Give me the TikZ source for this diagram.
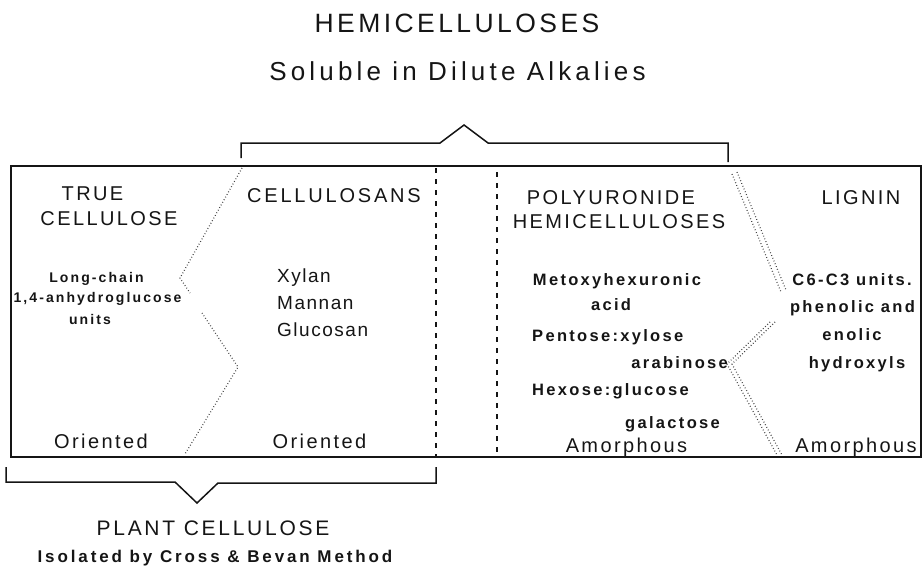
\documentclass[tikz,border=0pt]{standalone}
\usepackage{fontspec}
\setmainfont{Liberation Sans}
\newcommand\fs[2]{\fontsize{#1}{#1}\selectfont\addfontfeatures{LetterSpace=#2}}
\definecolor{ink}{HTML}{151515}
\tikzset{
  lbl/.style={inner sep=0pt, anchor=base, text=ink},
  lblw/.style={lbl, anchor=base west},
  lble/.style={lbl, anchor=base east},
  frame/.style={draw=ink, line width=1.4pt},
  brk/.style={draw=ink, line width=1.5pt, line join=miter},
  dsh/.style={draw=ink, line width=1.8pt, dash pattern=on 5pt off 6pt},
  dot/.style={draw=ink!80, line width=1.2pt, dash pattern=on 0.8pt off 2.2pt},
  hdr/.style={lbl, font={\fs{20}{12}}},
  smb/.style={lbl, font={\fs{14}{15}\bfseries}},
  mdb/.style={lbl, font={\fs{16.5}{14}\bfseries}},
  xyl/.style={lblw, font={\fs{19}{8}}},
}
\begin{document}
\begin{tikzpicture}[x=1pt,y=-1pt]
\useasboundingbox (0,0) rectangle (923,570);
% titles
\node[lbl, font={\fs{26.5}{13}}] (t1) at (457,32) {HEMICELLULOSES};
\node[lbl, font={\fs{26}{16}}] (t2) at (457.5,80) {Soluble in Dilute Alkalies};
% top bracket
\draw[brk] (241,158) -- (241,143) -- (440,143) -- (464,125) -- (488,143) -- (728,143) -- (728,162);
% main frame
\draw[frame] (11,166) rectangle (921,457);
% dashed separators
\draw[dsh] (436,168) -- (436,457);
\draw[dsh] (497,172) -- (497,457);
% dotted separator left
\draw[dot] (242,168) -- (180,278) -- (190,293);
\draw[dot] (202,313) -- (238,367) -- (185,454);
% double dotted separator right
\draw[dot] (732,174) -- (781,292);
\draw[dot] (737,172) -- (786,290);
\draw[dot] (770,322) -- (727,364) -- (777,455);
\draw[dot] (775,322) -- (732,364) -- (782,455);
% bottom bracket
\draw[brk] (6,467) -- (6,482) -- (175,482) -- (197,503) -- (218,483) -- (436,483) -- (436,467);
% column 1
\node[hdr] (c1a) at (92.5,200) {TRUE};
\node[hdr] (c1b) at (109,225) {CELLULOSE};
\node[smb] (c1c) at (96.5,282) {Long-chain};
\node[smb] (c1d) at (97.5,302) {1,4-anhydroglucose};
\node[smb] (c1e) at (90,324) {units};
\node[hdr] (c1f) at (101,448) {Oriented};
% column 2
\node[hdr, font={\fs{20}{14}}] (c2a) at (334,202) {CELLULOSANS};
\node[xyl] (c2b) at (277,282) {Xylan};
\node[xyl] (c2c) at (277,309) {Mannan};
\node[xyl] (c2d) at (277,336) {Glucosan};
\node[hdr] (c2e) at (319.5,448) {Oriented};
% column 3
\node[hdr] (c3a) at (611,204) {POLYURONIDE};
\node[hdr] (c3b) at (619,228) {HEMICELLULOSES};
\node[mdb] (c3c) at (617,285) {Metoxyhexuronic};
\node[mdb] (c3d) at (611,310) {acid};
\node[mdb, anchor=base west] (c3e) at (532,341) {Pentose:xylose};
\node[mdb, anchor=base east] (c3f) at (728,368) {arabinose};
\node[mdb, anchor=base west] (c3g) at (532,395) {Hexose:glucose};
\node[mdb, anchor=base east] (c3h) at (720,428) {galactose};
\node[hdr] (c3i) at (626.5,452) {Amorphous};
% column 4
\node[hdr] (c4a) at (861,204) {LIGNIN};
\node[mdb] (c4b) at (852,285) {C6-C3 units.};
\node[mdb] (c4c) at (852.5,312) {phenolic and};
\node[mdb] (c4d) at (852,340) {enolic};
\node[mdb] (c4e) at (857,368) {hydroxyls};
\node[hdr] (c4f) at (856,452) {Amorphous};
% bottom labels
\node[lbl, font={\fs{21}{13}}] (b1) at (213,535) {PLANT CELLULOSE};
\node[lbl, font={\fs{17}{17}\bfseries}] (b2) at (215,562) {Isolated by Cross \& Bevan Method};
\end{tikzpicture}
\end{document}
